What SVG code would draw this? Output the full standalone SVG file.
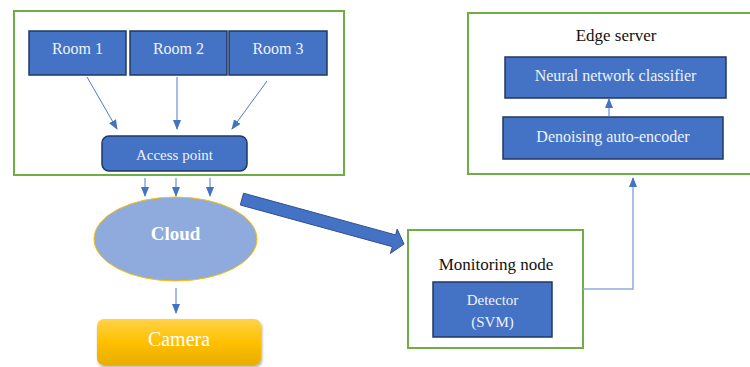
<svg xmlns="http://www.w3.org/2000/svg" width="750" height="367" viewBox="0 0 750 367">
<style>
.grp{fill:#fff;stroke:#70ad47;stroke-width:2}
.blk{fill:#4472c4;stroke:#1f3864;stroke-width:1.5}
text{text-anchor:middle;dominant-baseline:central}
.lt{fill:#eef2fa}
.dk{fill:#111}
.ln{stroke:#4a7bd0;stroke-width:1;fill:none;marker-end:url(#ah)}
.ln2{stroke:#8faadc;stroke-width:1.5;fill:none;marker-end:url(#ah)}
</style>
<defs>
<marker id="ah" markerWidth="10" markerHeight="10" refX="9" refY="5" orient="auto" markerUnits="userSpaceOnUse">
<path d="M0,1 L10,5 L0,9 Z" fill="#4472c4"/>
</marker>
<linearGradient id="cam" x1="0" y1="0" x2="0" y2="1">
<stop offset="0" stop-color="#ffd24a"/>
<stop offset="0.5" stop-color="#ffc000"/>
<stop offset="1" stop-color="#e8ad00"/>
</linearGradient>
<filter id="sh" x="-10%" y="-20%" width="130%" height="150%">
<feDropShadow dx="1" dy="2" stdDeviation="1.5" flood-color="#000" flood-opacity="0.35"/>
</filter>
</defs>
<rect width="750" height="367" fill="#fff"/>
<g font-family="Liberation Serif, DejaVu Serif, serif">
<g id="local-group"><rect class="grp" x="14" y="11" width="330" height="164"/></g>
<g id="room1"><rect class="blk" x="29" y="31" width="97" height="44"/><text class="lt" x="77.5" y="48" font-size="16">Room 1</text></g>
<g id="room2"><rect class="blk" x="130" y="31" width="97" height="44"/><text class="lt" x="178.5" y="48" font-size="16">Room 2</text></g>
<g id="room3"><rect class="blk" x="229" y="31" width="98" height="44"/><text class="lt" x="278" y="48" font-size="16">Room 3</text></g>
<g id="access-point"><rect class="blk" x="102" y="136" width="145" height="35" rx="7"/><text class="lt" x="174.5" y="155" font-size="15">Access point</text></g>

<g id="cloud"><ellipse cx="175.5" cy="239" rx="81.5" ry="42" fill="#8faadc" stroke="#ffc000" stroke-width="1"/><text x="175.5" y="233" font-size="19" font-weight="bold" fill="#fff">Cloud</text></g>
<g id="camera"><rect x="97" y="319" width="164" height="46" rx="7" fill="url(#cam)" filter="url(#sh)"/><text x="179" y="339" font-size="20" fill="#fff">Camera</text></g>

<g id="monitoring-node"><rect class="grp" x="408" y="230" width="175" height="118"/><text class="dk" x="496" y="264" font-size="17">Monitoring node</text></g>
<g id="detector"><rect class="blk" x="433" y="282" width="119" height="55"/><text class="lt" x="492.5" y="300" font-size="15">Detector</text><text class="lt" x="492.5" y="322" font-size="15">(SVM)</text></g>

<g id="edge-server"><rect class="grp" x="468" y="13" width="290" height="161"/><text class="dk" x="616" y="35" font-size="17">Edge server</text></g>
<g id="nn-classifier"><rect class="blk" x="505" y="57" width="221" height="41"/><text class="lt" x="615.5" y="75" font-size="16">Neural network classifier</text></g>
<g id="dae"><rect class="blk" x="503" y="117" width="220" height="42"/><text class="lt" x="613" y="136" font-size="16">Denoising auto-encoder</text></g>
</g>
<g id="connectors">
<line class="ln" x1="87" y1="77" x2="117" y2="129"/>
<line class="ln" x1="177" y1="77" x2="177" y2="129"/>
<line class="ln" x1="267" y1="81" x2="232" y2="129"/>
<line class="ln" x1="145" y1="178" x2="145" y2="196"/>
<line class="ln" x1="176" y1="178" x2="176" y2="196"/>
<line class="ln" x1="210" y1="178" x2="210" y2="196"/>
<line class="ln" x1="176" y1="288" x2="176" y2="313"/>
<line class="ln" x1="609" y1="117" x2="609" y2="99"/>
<polyline class="ln2" points="583,289 633,289 633,178"/>
<path d="M243.5,193.2 L395.6,234.9 L397.2,229.1 L404,244 L390.4,253.4 L392.4,246.7 L240.3,205 Z" fill="#4472c4" stroke="#2f528f" stroke-width="1"/>
</g>
</svg>
